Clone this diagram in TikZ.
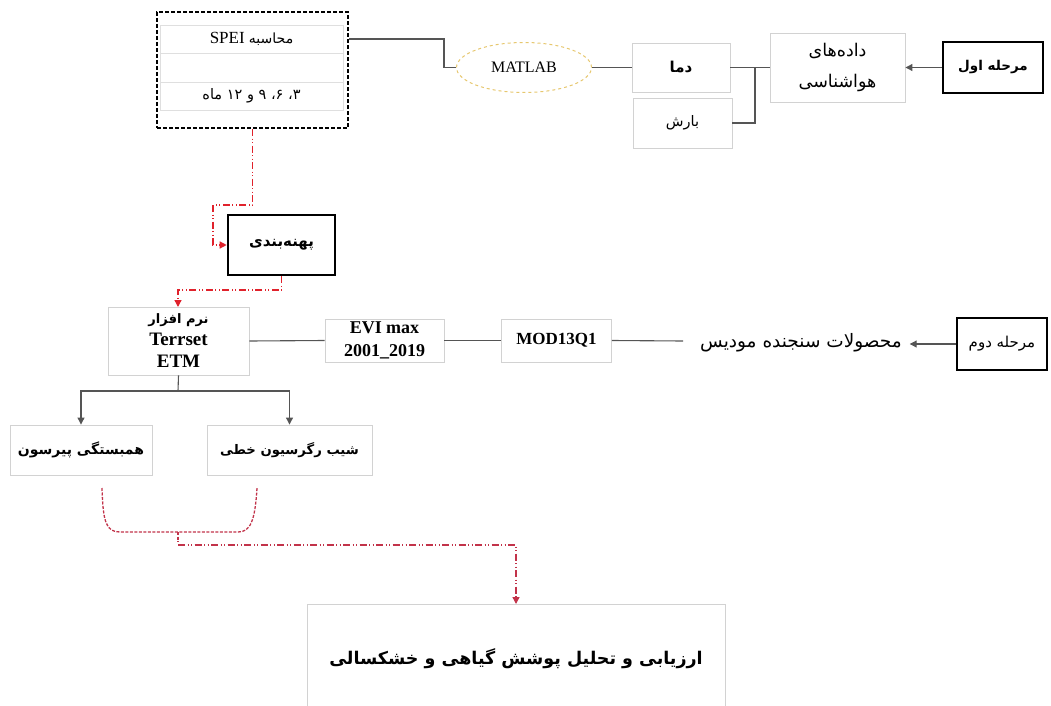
\documentclass[tikz,border=0pt]{standalone}
\usepackage{fontspec}
\setmainfont{Liberation Serif}
\newfontfamily\arabicfont[Script=Arabic]{DejaVu Sans}
\TeXXeTstate=1
\usetikzlibrary{arrows.meta,shapes.geometric}
\newcommand\pers[1]{{\arabicfont\beginR #1\endR}}
\newcommand\fsz[1]{\fontsize{#1}{1.2\dimexpr #1pt\relax}\selectfont}
\definecolor{boxgray}{HTML}{D2D2D2}
\definecolor{linegray}{HTML}{555555}
\definecolor{redA}{HTML}{E0222C}
\definecolor{redB}{HTML}{C2334A}
\definecolor{goldline}{HTML}{E6C76E}
\begin{document}
\begin{tikzpicture}[x=1pt,y=-1pt,
  box/.style={draw=boxgray, line width=0.9pt, fill=white, inner sep=0pt, align=center},
  thickbox/.style={draw=black, line width=2.6pt, fill=white, inner sep=0pt, align=center},
  speibox/.style={draw=black, line width=2pt, dash pattern=on 4pt off 2pt, inner sep=0pt},
  rowbox/.style={draw=boxgray!70, line width=0.7pt, inner sep=0pt, align=center},
  conn/.style={draw=linegray, line width=1.1pt},
  arr/.style={conn, -{Triangle[length=7pt,width=7pt]}},
  reddd/.style={draw=#1, line width=1.3pt, dash pattern=on 7pt off 2.5pt on 1pt off 2.5pt on 1pt off 2.5pt},
  redarr/.style={reddd=#1, -{Triangle[length=7pt,width=7pt]}},
  bracket/.style={draw=redB, line width=1.3pt, dash pattern=on 3pt off 1.5pt},
]
\useasboundingbox (0,0) rectangle (1051,706);
\clip (0,0) rectangle (1051,706);

% ---- stage one ----
\node[speibox, minimum width=191pt, minimum height=116pt] (spei) at (252.5,70) {};
\node[rowbox, minimum width=183pt, minimum height=28pt] (r1) at (251.5,39)
  {\fsz{17}\beginR{\arabicfont\fsz{14}محاسبه} SPEI\endR};
\node[rowbox, minimum width=183pt, minimum height=29pt] (r2) at (251.5,67.5) {};
\node[rowbox, minimum width=183pt, minimum height=28pt] (r3) at (251.5,96)
  {\fsz{14.5}\pers{۳، ۶، ۹ و ۱۲ ماه}};

\node[ellipse, draw=goldline, line width=1pt, dashed, minimum width=135pt, minimum height=50pt, inner sep=0pt] (matlab) at (524,67.5)
  {\fsz{16}MATLAB};
\node[box, minimum width=98pt, minimum height=49pt] (dama) at (681,67.5)
  {\fsz{15}\bfseries\pers{دما}};
\node[box, minimum width=99pt, minimum height=50pt] (barsh) at (682.5,123)
  {\fsz{14.5}\pers{بارش}};
\node[box, minimum width=135pt, minimum height=69pt, font=\fontsize{17.5}{31}\selectfont] (data) at (837.5,67.5)
  {\pers{داده^^^^200cهای}\\\pers{هواشناسی}};
\node[thickbox, minimum width=100pt, minimum height=51pt] (m1) at (993,67.5)
  {\fsz{13.5}\bfseries\pers{مرحله اول}};

\coordinate (jd) at (755,67.5);
\draw[conn] (r1.east -| spei.east) -- ++(95,0) |- (matlab.west);
\draw[conn] (matlab.east) -- (dama.west);
\draw[conn] (dama.east) -- (data.west);
\draw[conn] (barsh.east) -| (jd);
\draw[arr] (m1.west) -- (data.east);

% ---- zoning ----
\node[thickbox, minimum width=107pt, minimum height=60pt] (pahne) at (281.5,245)
  {\fsz{15}\bfseries\pers{پهنه^^^^200cبندی}};
\coordinate (c1) at (213,205);
\coordinate (c2) at (178,290);
\draw[redarr=redA] (spei.south) |- (c1) |- (pahne.west);
\draw[redarr=redA] (pahne.south) |- (c2) -- ++(0,17);

% ---- stage two ----
\node[box, minimum width=141pt, minimum height=68pt, font=\bfseries\fontsize{19}{22}\selectfont] (terr) at (178.5,341)
  {{\fontsize{13}{22}\selectfont\pers{نرم افزار}}\\Terrset\\ETM};
\node[box, minimum width=119pt, minimum height=43pt, font=\bfseries\fontsize{18}{23}\selectfont] (evi) at (384.5,340.5)
  {EVI max\\2001\_2019};
\node[box, minimum width=110pt, minimum height=43pt] (mod) at (556.5,340.5)
  {\bfseries\fsz{17}MOD13Q1};
\node[inner sep=0pt] (modis) at (801,343)
  {\fsz{18.5}\pers{محصولات سنجنده مودیس}};
\node[thickbox, minimum width=90pt, minimum height=52pt] (m2) at (1002,344)
  {\fsz{15}\pers{مرحله دوم}};
\coordinate (modend) at (683,341);
\draw[conn] (terr.east) -- (evi.west);
\draw[conn] (evi.east) -- (mod.west);
\draw[conn] (mod.east) -- (modend);
\draw[arr] (m2.west) -- ++(-46,0);

% ---- analysis ----
\node[box, minimum width=142pt, minimum height=50pt] (pearson) at (81,450)
  {\fsz{14}\bfseries\pers{همبستگی پیرسون}};
\node[box, minimum width=165pt, minimum height=50pt] (regr) at (289.5,450)
  {\fsz{13.2}\bfseries\pers{شیب رگرسیون خطی}};
\coordinate (split) at (178,391);
\draw[conn] (terr.south) -- (split);
\draw[arr] (split) -| (pearson.north);
\draw[arr] (split) -| (regr.north);

\coordinate (b1) at (102,488);
\coordinate (b2) at (257,488);
\coordinate (bm) at (178,532);
\draw[bracket] (b1) .. controls (103,522) and (106,532) .. (120,532) -- (238,532) .. controls (250,532) and (255,522) .. (b2);
\draw[bracket] (bm) -- ++(0,10);

\node[box, minimum width=418pt, minimum height=108pt, anchor=north] (final) at (516,604)
  {\fsz{17.5}\bfseries\pers{ارزیابی و تحلیل پوشش گیاهی و خشکسالی}};
\draw[redarr=redB] (178,545) -| (final.north);
\end{tikzpicture}
\end{document}
